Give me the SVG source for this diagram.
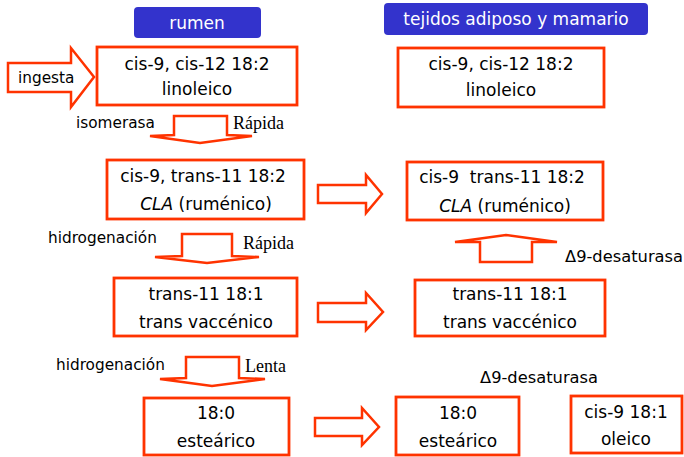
<svg xmlns="http://www.w3.org/2000/svg" width="684" height="457" viewBox="0 0 684 457">
<style>
.box{fill:#fff;stroke:#ff3300;stroke-width:2.8}
.arr{fill:#fff;stroke:#ff3300;stroke-width:2.5;stroke-linejoin:miter}
.hdr{fill:#3333cc}
.t{font-family:"DejaVu Sans",sans-serif;font-size:17px;fill:#000;text-anchor:middle}
.ht{font-family:"DejaVu Sans",sans-serif;font-size:17px;fill:#fff;text-anchor:middle}
.lb{font-family:"DejaVu Sans",sans-serif;font-size:15.3px;fill:#000}
.ds{font-family:"DejaVu Sans",sans-serif;font-size:16.3px;fill:#000}
.sf{font-family:"Liberation Serif",serif;font-size:18px;fill:#000}
</style>
<rect width="684" height="457" fill="#fff"/>
<g id="hdr-rumen"><rect class="hdr" x="134" y="7" width="127" height="31" rx="4"/><text class="ht" x="197" y="29">rumen</text></g>
<g id="hdr-tejidos"><rect class="hdr" x="384" y="3" width="264" height="32" rx="4"/><text class="ht" x="516" y="25">tejidos adiposo y mamario</text></g>

<g id="connectors">
<polygon class="arr" points="8,63 71,63 71,48 94,77 71,107 71,92 8,92"/>
<polygon class="arr" points="174,116 227,116 227,135 252,136 200,143 150,136 174,135"/>
<polygon class="arr" points="182,234 232,234 232,256 259,257 207,263 155,257 182,256"/>
<polygon class="arr" points="186,357 239,357 239,378 265,379 212,386 160,379 186,378"/>
<polygon class="arr" points="480,262 532,262 532,242 557,242 506,235 455,242 480,242"/>
<polygon class="arr" points="318,185 366,185 366,175 382,194 366,213 366,203 318,203"/>
<polygon class="arr" points="318,303 366,303 366,293 383,312 366,330 366,322 318,322"/>
<polygon class="arr" points="315,418 362,418 362,408 379,427 362,445 362,436 315,436"/>
<text class="lb" x="18" y="83">ingesta</text>
<text class="lb" x="76" y="128">isomerasa</text>
<text class="sf" x="233" y="129">Rápida</text>
<text class="lb" x="48" y="243">hidrogenación</text>
<text class="sf" x="243" y="249">Rápida</text>
<text class="lb" x="56" y="370">hidrogenación</text>
<text class="sf" x="245" y="372">Lenta</text>
<text class="ds" x="565" y="262">Δ9-desaturasa</text>
<text class="ds" x="480" y="383">Δ9-desaturasa</text>
</g>

<g id="n-linoleico-rumen"><rect class="box" x="97" y="47" width="200" height="58"/><text class="t" x="197" y="70">cis-9, cis-12 18:2</text><text class="t" x="197" y="95">linoleico</text></g>
<g id="n-linoleico-tej"><rect class="box" x="398" y="48" width="206" height="59"/><text class="t" x="501" y="70">cis-9, cis-12 18:2</text><text class="t" x="501" y="96">linoleico</text></g>
<g id="n-cla-rumen"><rect class="box" x="107" y="160" width="197" height="59"/><text class="t" x="203" y="182">cis-9, trans-11 18:2</text><text class="t" x="206" y="210"><tspan font-style="italic">CLA</tspan> (ruménico)</text></g>
<g id="n-cla-tej"><rect class="box" x="407" y="162" width="196" height="58"/><text class="t" x="502" y="183" xml:space="preserve">cis-9  trans-11 18:2</text><text class="t" x="505" y="212"><tspan font-style="italic">CLA</tspan> (ruménico)</text></g>
<g id="n-vacc-rumen"><rect class="box" x="114" y="278" width="183" height="58"/><text class="t" x="206" y="300">trans-11 18:1</text><text class="t" x="206" y="328">trans vaccénico</text></g>
<g id="n-vacc-tej"><rect class="box" x="415" y="280" width="190" height="56"/><text class="t" x="510" y="300">trans-11 18:1</text><text class="t" x="510" y="328">trans vaccénico</text></g>
<g id="n-est-rumen"><rect class="box" x="144" y="398" width="145" height="57"/><text class="t" x="216" y="419">18:0</text><text class="t" x="216" y="447">esteárico</text></g>
<g id="n-est-tej"><rect class="box" x="396" y="397" width="123" height="58"/><text class="t" x="458" y="419">18:0</text><text class="t" x="458" y="447">esteárico</text></g>
<g id="n-oleico"><rect class="box" x="571" y="396" width="111" height="57"/><text class="t" x="626" y="418">cis-9 18:1</text><text class="t" x="626" y="445">oleico</text></g>
</svg>
